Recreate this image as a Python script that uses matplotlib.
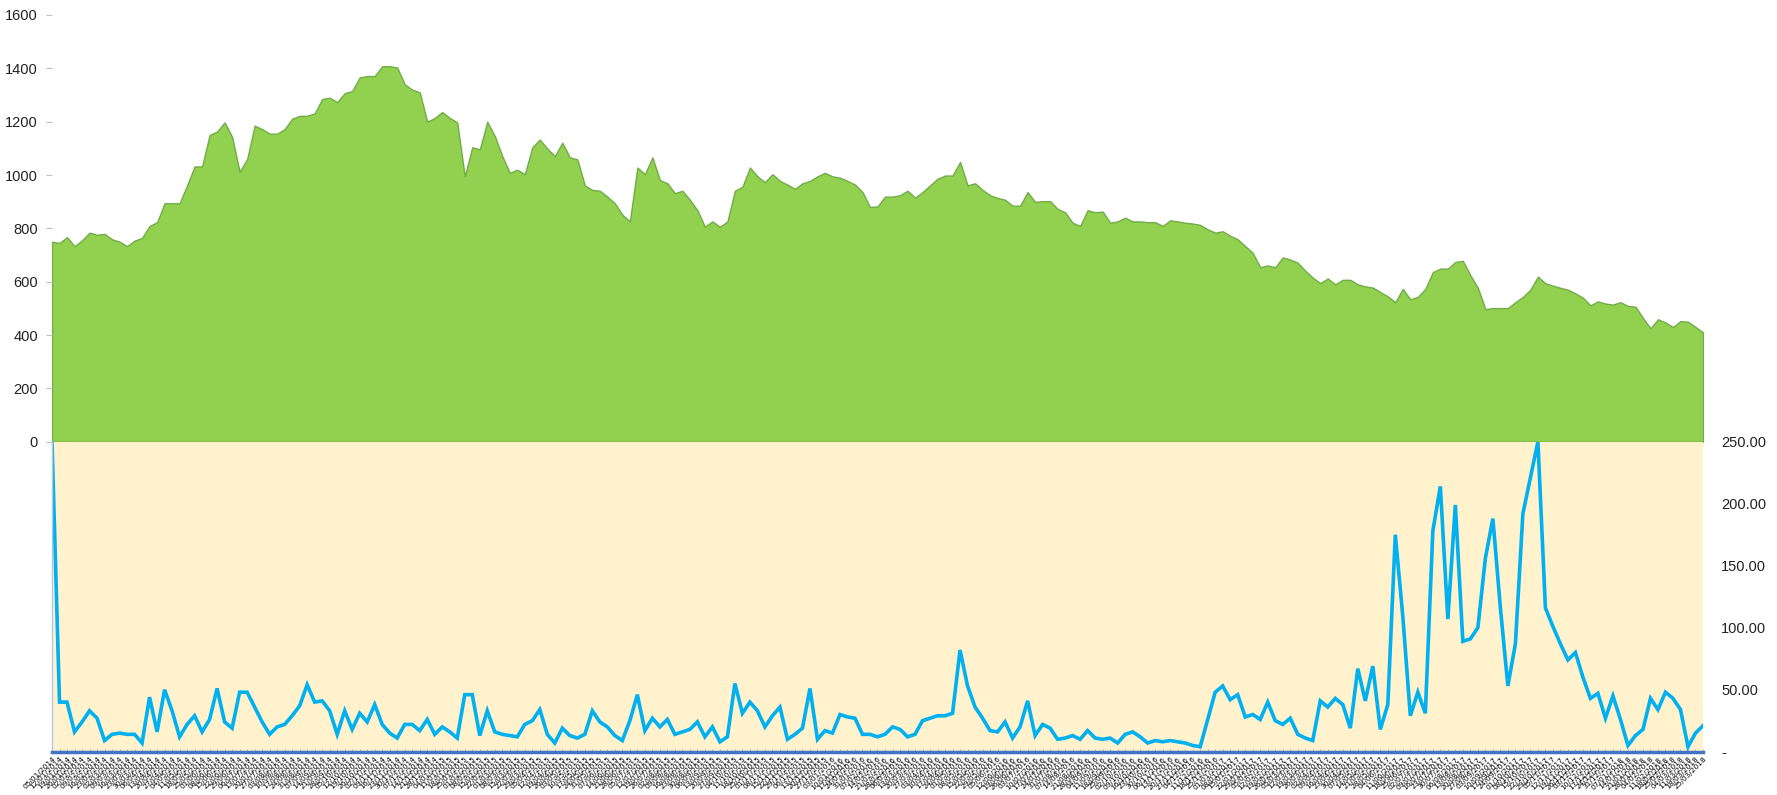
import numpy as np
import pandas as pd
import matplotlib
matplotlib.use("Agg")
import matplotlib.pyplot as plt
from matplotlib.ticker import FixedLocator, FixedFormatter

plt.rcParams['font.family'] = ['Liberation Sans', 'DejaVu Sans']

# upper series (green area)
level = [750, 745, 767, 733, 755, 784, 776, 779, 759, 750, 733, 754, 764, 809, 823, 894, 894, 894, 961, 1032,
         1032, 1150, 1163, 1197, 1143, 1012, 1059, 1185, 1172, 1155, 1155, 1172, 1211, 1222, 1222, 1231, 1285, 1290,
         1273, 1307, 1315, 1366, 1371, 1371, 1408, 1408, 1403, 1340, 1320, 1310, 1200, 1214, 1236, 1214, 1197, 995,
         1104, 1096, 1200, 1146, 1071, 1008, 1020, 1003, 1104, 1133, 1099, 1071, 1121, 1066, 1059, 961, 944, 941,
         919, 894, 851, 826, 1028, 1003, 1066, 981, 969, 932, 941, 907, 868, 806, 826, 806, 826, 941, 956, 1028,
         995, 973, 1003, 978, 964, 948, 969, 978, 995, 1008, 995, 990, 978, 964, 936, 880, 882,
         919, 919, 924, 941, 915, 936, 961, 986, 998, 998, 1049, 961, 969, 944, 924, 914, 907, 885, 885, 936,
         899, 902, 902, 873, 860, 821, 809, 868, 860, 863, 821, 826, 840, 826, 826, 823,
         823, 809, 830, 826, 821, 818, 813, 796, 784, 789, 772, 759, 733, 708, 654, 661, 654, 691, 683, 671,
         641, 615, 595, 612, 590, 607, 607, 590, 582, 578, 561, 545, 523, 573, 534, 543, 573,
         636, 649, 649, 674, 678, 624, 577, 497, 501, 501, 501, 523, 543, 570, 619, 594, 585, 577, 570, 556,
         540, 511, 526, 518, 514, 523, 509, 506, 464, 425, 459, 447, 430, 452, 450, 430, 410]

# lower series (blue line)
rate = [250, 40, 40, 16, 24, 33, 27, 9, 14, 15, 14, 14, 7, 44, 16, 50, 33, 12, 22, 29,
        16, 26, 51, 24, 19, 48, 48, 36, 24, 14, 20, 22, 29, 37, 54, 40, 41, 33,
        14, 33, 18, 31, 24, 38, 22, 15, 11, 22, 22, 17, 26, 14, 20, 16, 11, 46, 46, 13,
        33, 16, 14, 13, 12, 22, 25, 34, 14, 7, 19, 13, 11, 14, 33, 24,
        20, 13, 9, 25, 46, 17, 27, 20, 26, 14, 16, 18, 24, 12, 20, 8, 12, 55, 31, 40,
        33, 20, 29, 36, 10, 14, 19, 51, 10, 17, 15, 30, 28, 27, 14, 14, 12,
        14, 20, 18, 12, 14, 25, 27, 29, 29, 31, 82, 53, 36, 27, 17, 16, 24, 11, 20, 41,
        13, 22, 19, 10, 11, 13, 10, 17, 11, 10, 11, 7, 14, 16, 12, 7,
        9, 8, 9, 8, 7, 5, 4, 26, 48, 53, 42, 46, 28, 30, 26, 40, 25, 22, 27, 14,
        11, 9, 41, 36, 43, 38, 19, 67, 41, 69, 18, 38, 175, 109, 29, 48, 31,
        178, 214, 107, 199, 89, 91, 100, 156, 188, 116, 53, 87, 192, 221, 250, 116, 101, 87, 74, 80,
        60, 43, 47, 27, 45, 26, 5, 13, 18, 43, 34, 48, 43, 34, 4, 15, 21]

# category labels along the bottom (too small to read in the original)
dates = pd.date_range("2014-01-05", periods=len(level), freq="W").strftime("%d/%m/%Y").tolist()

left_ticks = [0, 200, 400, 600, 800, 1000, 1200, 1400, 1600]
right_ticks = [0, 50, 100, 150, 200, 250]
right_labels = ['-', '50.00', '100.00', '150.00', '200.00', '250.00']

W, H = 1777, 795
fig = plt.figure(figsize=(W / 100, H / 100), dpi=100)
x0, x1 = 52, 1703
top_y0, top_y1 = 15, 441.7
bot_y1 = 751.7

ax = fig.add_axes([x0 / W, (H - top_y1) / H, (x1 - x0) / W, (top_y1 - top_y0) / H])
bx = fig.add_axes([x0 / W, (H - bot_y1) / H, (x1 - x0) / W, (bot_y1 - top_y1) / H])

x = np.arange(len(level))

ax.fill_between(x, level, 0, facecolor='#92D050', edgecolor='#70AD47', linewidth=1.0)
ax.set_xlim(0, len(level) - 1)
ax.set_ylim(0, 1600)
for s in ax.spines.values():
    s.set_visible(False)
ax.set_xticks([])
ax.yaxis.set_major_locator(FixedLocator(left_ticks))
ax.set_yticklabels([str(v) for v in left_ticks])
ax.tick_params(axis='y', length=4, width=0.8, color='#BFBFBF', pad=6, labelsize=10.5, labelcolor='#222222')
ax.patch.set_alpha(0)

bx.set_facecolor('#FFF2CC')
bx.plot(x, rate, color='#00B0F0', linewidth=2.6, solid_joinstyle='miter')
bx.set_xlim(0, len(level) - 1)
bx.set_ylim(0, 250)
for side in ['top', 'right']:
    bx.spines[side].set_visible(False)
bx.spines['left'].set_color('#B4C7E7')
bx.spines['left'].set_linewidth(1.0)
bx.spines['bottom'].set_color('#4472C4')
bx.spines['bottom'].set_linewidth(2.5)
bx.yaxis.tick_right()
bx.yaxis.set_major_locator(FixedLocator(right_ticks))
bx.yaxis.set_major_formatter(FixedFormatter(right_labels))
bx.tick_params(axis='y', length=0, pad=13, labelsize=10.5, labelcolor='#222222')
for lab in bx.get_yticklabels():
    lab.set_horizontalalignment('left')

bx.set_xticks(x)
bx.set_xticklabels(dates, rotation=45, ha='right', rotation_mode='anchor',
                   fontsize=5.4, family=['DejaVu Sans'], color='#000000')
bx.tick_params(axis='x', length=2, width=0.6, color='#8EA9DB', direction='in', pad=3)

fig.savefig("out.png", dpi=100)
